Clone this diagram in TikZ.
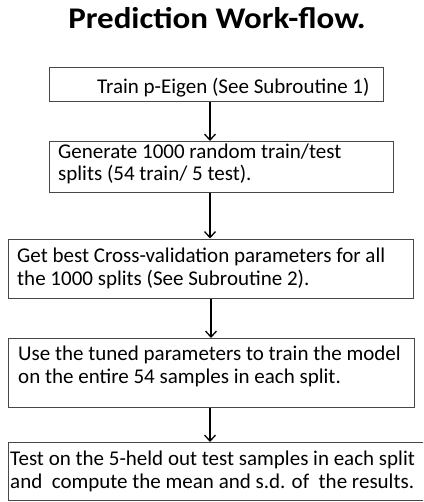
\documentclass[tikz,border=0pt]{standalone}
\usepackage{fontspec}
\usepackage{graphicx}
\setmainfont{Carlito}
\usetikzlibrary{arrows.meta}
\tikzset{
  box/.style={draw=black!72, line width=1.2pt, rectangle, inner sep=0pt, anchor=north west},
  txt/.style={anchor=base west, inner sep=0pt, font=\fontsize{21}{23}\selectfont},
  arr/.style={draw=black, line width=1.5pt, -{Straight Barb[length=6pt,width=11pt,line width=1.3pt]}},
}
\begin{document}
\begin{tikzpicture}[x=1pt,y=-1pt]
\useasboundingbox (0,0) rectangle (423,502);
\clip (0,0) rectangle (423,502);
% title
\node[anchor=base, inner sep=0pt, font=\fontsize{30}{34}\bfseries\selectfont] (title) at (217,28.5) {\scalebox{1.1}[1]{Prediction Work-flow.}};
% boxes
\node[box, minimum width=334pt, minimum height=34pt] (b1) at (49,67) {};
\node[box, minimum width=344pt, minimum height=51pt] (b2) at (49,141) {};
\node[box, minimum width=405pt, minimum height=59pt] (b3) at (8,238.5) {};
\node[box, minimum width=406pt, minimum height=69pt] (b4) at (8,338) {};
\node[box, minimum width=430pt, minimum height=58pt] (b5) at (8,442) {};
% texts
\node[txt] (t1) at (97,94) {Train p-Eigen (See Subroutine 1)};
\node[txt] (t2a) at (58,159) {Generate 1000 random train/test};
\node[txt] (t2b) at (58,181) {splits (54 train/ 5 test).};
\node[txt] (t3a) at (17,262) {Get best Cross-validation parameters for all};
\node[txt] (t3b) at (17,285) {the 1000 splits (See Subroutine 2).};
\node[txt] (t4a) at (18,360) {Use the tuned parameters to train the model};
\node[txt] (t4b) at (18,383) {on the entire 54 samples in each split.};
\node[txt] (t5a) at (10,465) {Test on the 5-held out test samples in each split};
\node[txt] (t5b) at (10,488) {and\ \ compute the mean and s.d. of\ \ the results.};
% arrow columns
\coordinate (c1) at (210,0);
\coordinate (c2) at (211,0);
\draw[arr] (b1.south -| c1) -- (b2.north -| c1);
\draw[arr] (b2.south -| c1) -- (b3.north -| c1);
\draw[arr] (b3.south -| c2) -- (b4.north -| c2);
\draw[arr] (b4.south -| c1) -- (b5.north -| c1);
\end{tikzpicture}
\end{document}
